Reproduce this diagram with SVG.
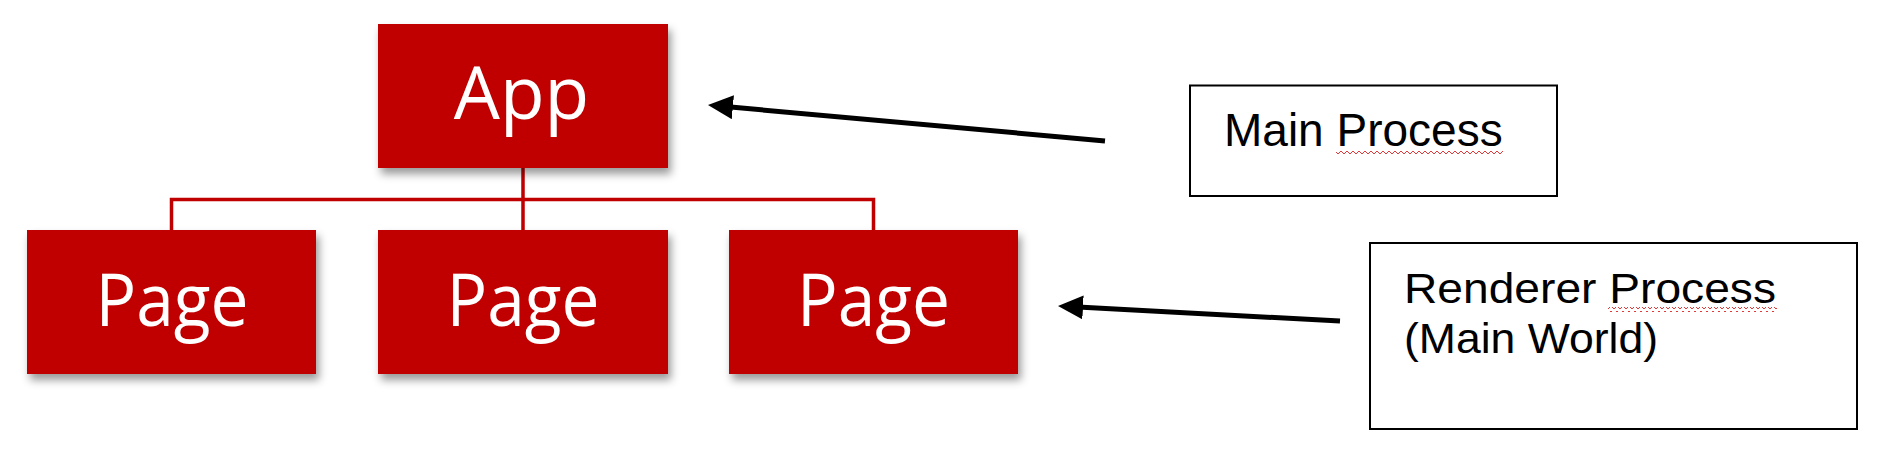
<svg xmlns="http://www.w3.org/2000/svg" width="1890" height="462" viewBox="0 0 1890 462">
  <defs>
    <filter id="shadow" x="-10%" y="-10%" width="125%" height="130%">
      <feDropShadow dx="3" dy="6" stdDeviation="4" flood-color="#000" flood-opacity="0.4"/>
    </filter>
    <marker id="arrowhead" viewBox="0 0 25 24" refX="5" refY="12" markerWidth="25" markerHeight="24" markerUnits="userSpaceOnUse" orient="auto">
      <path d="M0,0 L25,12 L0,24 Z" fill="#000"/>
    </marker>
    <pattern id="squig" x="0" y="0" width="6" height="5" patternUnits="userSpaceOnUse">
      <path d="M0,4 L3,1 L6,4" stroke="#e23a3a" stroke-width="1" fill="none"/>
    </pattern>
    <style>
      .box { fill: #C00000; filter: url(#shadow); }
      .boxtext { fill: #ffffff; font-family: "Open Sans", "Noto Sans", sans-serif; font-size: 73px; text-anchor: middle; }
      .tree { stroke: #C00000; stroke-width: 3.5; fill: none; }
      .arrow { stroke: #000; stroke-width: 5; fill: none; marker-end: url(#arrowhead); }
      .label { fill: #fff; stroke: #000; stroke-width: 2; }
      .labeltext { fill: #000; font-family: "Liberation Sans", Arial, sans-serif; font-size: 46px; }
      .rtext { font-size: 42px; }
    </style>
  </defs>
  <rect width="1890" height="462" fill="#ffffff"/>

  <g id="connectors">
    <path class="tree" d="M523,168 V230 M171.5,230 V199.5 H873.5 V230"/>
    <line class="arrow" x1="1105" y1="141" x2="727.9" y2="106.8"/>
    <line class="arrow" x1="1340" y1="321" x2="1078" y2="307.1"/>
  </g>

  <g id="app">
    <rect class="box" x="378" y="24" width="290" height="144"/>
    <text class="boxtext" x="521.5" y="119">App</text>
  </g>
  <g id="page1">
    <rect class="box" x="27" y="230" width="289" height="144"/>
    <text class="boxtext" x="172" y="326" textLength="153" lengthAdjust="spacingAndGlyphs">Page</text>
  </g>
  <g id="page2">
    <rect class="box" x="378" y="230" width="290" height="144"/>
    <text class="boxtext" x="523" y="326" textLength="153" lengthAdjust="spacingAndGlyphs">Page</text>
  </g>
  <g id="page3">
    <rect class="box" x="729" y="230" width="289" height="144"/>
    <text class="boxtext" x="873.5" y="326" textLength="153" lengthAdjust="spacingAndGlyphs">Page</text>
  </g>

  <g id="main-process">
    <rect class="label" x="1190" y="85.5" width="367" height="110.5"/>
    <text class="labeltext" x="1224" y="146">Main Process</text>
    <rect x="1336" y="149" width="167" height="5" fill="url(#squig)"/>
  </g>

  <g id="renderer-process">
    <rect class="label" x="1370" y="243" width="487" height="186"/>
    <text class="labeltext rtext" x="1404" y="303" textLength="372" lengthAdjust="spacingAndGlyphs">Renderer Process</text>
    <text class="labeltext rtext" x="1404" y="353" textLength="254" lengthAdjust="spacingAndGlyphs">(Main World)</text>
    <rect x="1608" y="307" width="169" height="5" fill="url(#squig)"/>
  </g>
</svg>
